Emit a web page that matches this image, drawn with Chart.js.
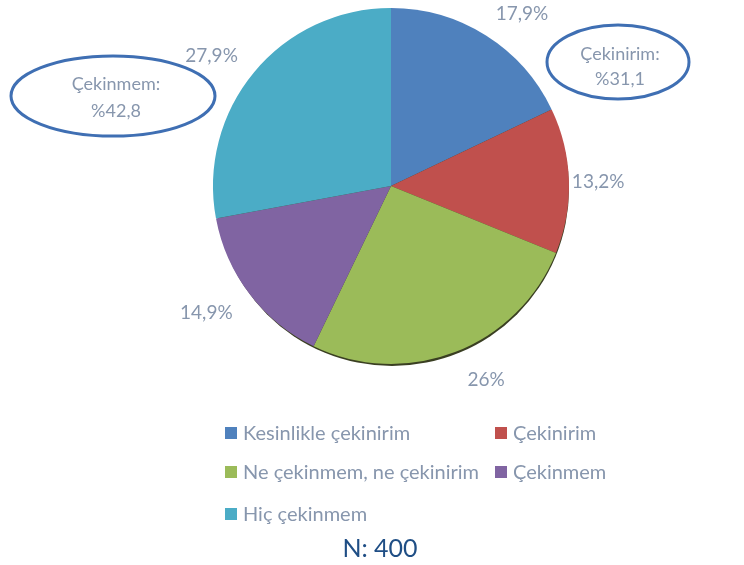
<!DOCTYPE html>
<html>
<head>
<meta charset="utf-8">
<script src="https://cdn.jsdelivr.net/npm/chart.js@4"></script>
<style>
  body { margin: 0; background: #fff; }
  #wrap { width: 744px; height: 565px; }
</style>
</head>
<body>
<div id="wrap"><canvas id="myChart" width="744" height="565"></canvas></div>
<script>
'use strict'

const categories = ['Kesinlikle çekinirim', 'Çekinirim', 'Ne çekinmem, ne çekinirim', 'Çekinmem', 'Hiç çekinmem'];
const values = [17.9, 13.2, 26, 14.9, 27.9];
const colors = ['#4f81bd', '#c0504d', '#9bbb59', '#8064a2', '#4bacc6'];
const sampleNote = 'N: 400';

const FONT = 'Lato, "Open Sans", sans-serif';
const GREY = '#8796ad';

function fmt(v){
    return String(v).replace('.', ',');
}

// sums shown in the two ovals
const agreeSum = Math.round((values[0] + values[1]) * 10) / 10;
const disagreeSum = Math.round((values[3] + values[4]) * 10) / 10;

const labelPlugin = {
    id: 'sliceLabels',
    beforeDatasetsDraw(chart){
        // dark rim under the pie
        const arc = chart.getDatasetMeta(0).data[0];
        const c = chart.ctx;
        c.save();
        c.fillStyle = '#3a3f22';
        c.beginPath();
        c.arc(arc.x + 1, arc.y + 3, arc.outerRadius - 1, 0, Math.PI * 2);
        c.fill();
        c.restore();
    },
    afterDatasetsDraw(chart){
        const c = chart.ctx;
        const arcs = chart.getDatasetMeta(0).data;
        c.save();
        c.font = '19px ' + FONT;
        c.fillStyle = GREY;
        c.textAlign = 'center';
        c.textBaseline = 'middle';
        arcs.forEach((arc, i) => {
            const mid = (arc.startAngle + arc.endAngle) / 2;
            const r = arc.outerRadius + 28;
            const cs = Math.cos(mid), sn = Math.sin(mid);
            const x = arc.x + cs * r + Math.sign(cs) * 21 * Math.min(1, Math.abs(sn) * 2);
            const y = arc.y + sn * r + 2;
            c.fillText(fmt(values[i]) + '%', x, y);
        });

        // ovals
        c.strokeStyle = '#3f6fb3';
        c.lineWidth = 3;
        c.beginPath();
        c.ellipse(113, 96, 102, 40, 0, 0, Math.PI * 2);
        c.stroke();
        c.beginPath();
        c.ellipse(618, 62, 71, 37, 0, 0, Math.PI * 2);
        c.stroke();
        c.font = '18px ' + FONT;
        c.fillText('Çekinmem:', 116, 84);
        c.fillText('%' + fmt(disagreeSum), 116, 111);
        c.fillText('Çekinirim:', 620, 54);
        c.fillText('%' + fmt(agreeSum), 620, 79);

        // legend, two columns
        const cols = [225, 495];
        const rows = [433, 472, 514];
        c.textAlign = 'left';
        c.font = '20px ' + FONT;
        categories.forEach((name, i) => {
            const x = cols[i % 2];
            const y = rows[Math.floor(i / 2)];
            c.fillStyle = colors[i];
            c.fillRect(x, y - 6, 12, 12);
            c.fillStyle = GREY;
            c.fillText(name, x + 18, y + 1);
        });

        c.textAlign = 'center';
        c.fillStyle = '#1f4e85';
        c.font = '25px ' + FONT;
        c.fillText(sampleNote, 380, 549);
        c.restore();
    }
};

const ctx = document.getElementById('myChart');
new Chart(ctx, {
    type: 'pie',
    data: {
        labels: categories,
        datasets: [{
            data: values,
            backgroundColor: colors,
            borderWidth: 0
        }]
    },
    options: {
        responsive: false,
        animation: false,
        layout: { padding: { top: 8, bottom: 201, left: 38, right: 0 } },
        plugins: {
            legend: { display: false },
            tooltip: { enabled: false }
        }
    },
    plugins: [labelPlugin]
});
</script>
</body>
</html>
